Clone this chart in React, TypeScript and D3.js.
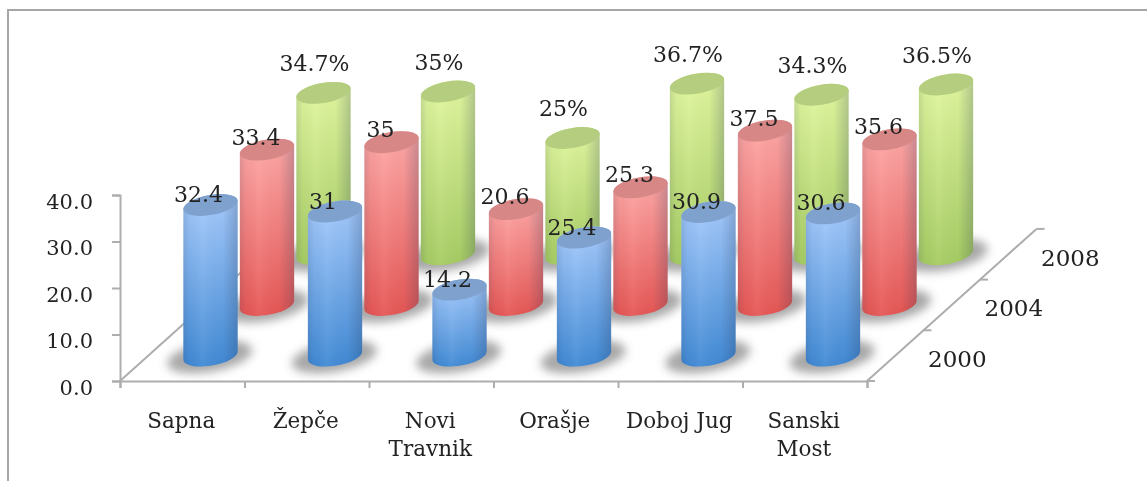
import { useEffect, useRef } from 'react';
import * as d3 from 'd3';

const categories = ['Sapna', 'Žepče', 'Novi\nTravnik', 'Orašje', 'Doboj Jug', 'Sanski\nMost'];
const years = ['2000', '2004', '2008'];
const values2000 = [32.4, 31, 14.2, 25.4, 30.9, 30.6];
const values2004 = [33.4, 35, 20.6, 25.3, 37.5, 35.6];
const values2008 = [34.7, 35, 25, 36.7, 34.3, 36.5];
const yTicks = [0, 10, 20, 30, 40];

const W = 1147;
const H = 481;
const m = { l: 120, r: 867, b: 381, t: 195 };
const depthX = 56.5;
const depthY = 50.7;
const rx = 27.5;
const ry = 10;
const tilt = -10;

const rows = [
  { key: 'blue', values: values2000, suffix: '', top: '#a8ccfd', bottom: '#4089d4', cap: '#7fa1cd', lx: -12, ly: -3 },
  { key: 'red', values: values2004, suffix: '', top: '#ffaaa8', bottom: '#e65654', cap: '#d78886', lx: -11, ly: -5 },
  { key: 'green', values: values2008, suffix: '%', top: '#e3f8a0', bottom: '#a6cc62', cap: '#b4cd7e', lx: -9, ly: -22 },
];

export default function App() {
  const ref = useRef<SVGSVGElement | null>(null);

  useEffect(() => {
    const el = ref.current;
    if (!el) return;
    el.innerHTML = '';
    const svg = d3.select(el);
    const defs = svg.append('defs');

    defs.append('filter').attr('id', 'soft').attr('x', '-1%').attr('y', '-1%').attr('width', '102%').attr('height', '102%')
      .append('feGaussianBlur').attr('stdDeviation', 0.5);
    defs.append('filter').attr('id', 'shadow').attr('x', '-40%').attr('y', '-80%').attr('width', '180%').attr('height', '260%')
      .append('feGaussianBlur').attr('stdDeviation', 5);

    rows.forEach(r => {
      const g = defs.append('linearGradient').attr('id', `body-${r.key}`).attr('x1', 0).attr('y1', 0).attr('x2', 0).attr('y2', 1);
      g.append('stop').attr('offset', 0).attr('stop-color', r.top);
      g.append('stop').attr('offset', 1).attr('stop-color', r.bottom);
    });
    const edge = defs.append('linearGradient').attr('id', 'edge').attr('x1', 0).attr('y1', 0).attr('x2', 1).attr('y2', 0);
    edge.append('stop').attr('offset', 0).attr('stop-color', '#203050').attr('stop-opacity', 0.14);
    edge.append('stop').attr('offset', 0.12).attr('stop-color', '#203050').attr('stop-opacity', 0.03);
    edge.append('stop').attr('offset', 0.35).attr('stop-color', '#ffffff').attr('stop-opacity', 0.06);
    edge.append('stop').attr('offset', 0.72).attr('stop-color', '#203050').attr('stop-opacity', 0.02);
    edge.append('stop').attr('offset', 1).attr('stop-color', '#203050').attr('stop-opacity', 0.24);

    const root = svg.append('g').attr('filter', 'url(#soft)');

    // chart frame, only top and left are in view
    root.append('path').attr('d', `M8,${H} V10 H${W}`).attr('fill', 'none').attr('stroke', '#a6a6a6').attr('stroke-width', 2);

    const y = d3.scaleLinear().domain([0, 40]).range([m.b, m.t]);
    const xEdge = d3.scaleLinear().domain([0, categories.length]).range([m.l, m.r]);
    const x = d3.scaleBand<string>().domain(categories).range([m.l, m.r]);
    const depth = d3.scaleBand<string>().domain(years).range([0, years.length]);
    const dx = (d: number) => d * depthX;
    const dy = (d: number) => -d * depthY;

    const axisColor = '#adadad';
    const fontFamily = '"DejaVu Serif", serif';

    // axes
    const yAxis = root.append('g').attr('transform', `translate(${m.l},0)`)
      .call(d3.axisLeft(y).tickValues(yTicks).tickFormat(d3.format('.1f') as any).tickSize(8).tickPadding(19));
    const xAxis = root.append('g').attr('transform', `translate(0,${m.b})`)
      .call(d3.axisBottom(xEdge).ticks(categories.length).tickFormat(() => '').tickSize(7));
    [yAxis, xAxis].forEach(a => {
      a.selectAll('path,line').attr('stroke', axisColor).attr('stroke-width', 2);
    });
    yAxis.selectAll('text')
      .attr('font-family', fontFamily).attr('font-size', 21).attr('fill', '#222').attr('dy', '0.62em')
      .attr('y', 0);

    // floor edges and depth ticks
    [m.l, m.r].forEach(x0 => {
      root.append('line')
        .attr('x1', x0).attr('y1', m.b)
        .attr('x2', x0 + dx(years.length)).attr('y2', m.b + dy(years.length))
        .attr('stroke', axisColor).attr('stroke-width', 2);
    });
    d3.range(years.length + 1).forEach(i => {
      root.append('line')
        .attr('x1', m.r + dx(i)).attr('y1', m.b + dy(i))
        .attr('x2', m.r + dx(i) + 8).attr('y2', m.b + dy(i))
        .attr('stroke', axisColor).attr('stroke-width', 2);
    });

    const theta = (tilt * Math.PI) / 180;
    const ex = Math.sqrt(rx * rx * Math.cos(theta) ** 2 + ry * ry * Math.sin(theta) ** 2);
    const ey = ((rx * rx - ry * ry) * Math.sin(theta) * Math.cos(theta)) / ex;

    const bodyPath = (cx: number, base: number, top: number) =>
      `M${cx - ex},${top - ey} L${cx - ex},${base - ey} ` +
      `A${rx},${ry} ${tilt} 0 0 ${cx + ex},${base + ey} ` +
      `L${cx + ex},${top + ey} A${rx},${ry} ${tilt} 0 0 ${cx - ex},${top - ey} Z`;

    const center = (s: number, i: number) => {
      const d = (depth(years[s]) as number) + depth.bandwidth() / 2;
      return {
        cx: (x(categories[i]) as number) + x.bandwidth() / 2 + dx(d),
        base: m.b + dy(d),
      };
    };

    // back row first so the front row overlaps it
    d3.range(rows.length).reverse().forEach(s => {
      const r = rows[s];
      const row = root.append('g');
      r.values.forEach((v, i) => {
        const { cx, base } = center(s, i);
        const top = base - (y(0) - y(v));
        row.append('ellipse')
          .attr('cx', cx - 1).attr('cy', base + 1).attr('rx', 43).attr('ry', 15)
          .attr('transform', `rotate(${tilt} ${cx} ${base})`)
          .attr('fill', '#999').attr('opacity', 0.85).attr('filter', 'url(#shadow)');
        row.append('path').attr('d', bodyPath(cx, base, top)).attr('fill', `url(#body-${r.key})`);
        row.append('path').attr('d', bodyPath(cx, base, top)).attr('fill', 'url(#edge)');
        row.append('ellipse')
          .attr('cx', cx).attr('cy', top).attr('rx', rx).attr('ry', ry)
          .attr('transform', `rotate(${tilt} ${cx} ${top})`)
          .attr('fill', r.cap);
      });
    });

    // text on top of everything
    const text = root.append('g').attr('font-family', fontFamily).attr('fill', '#222');

    rows.forEach((r, s) => {
      r.values.forEach((v, i) => {
        const { cx, base } = center(s, i);
        text.append('text')
          .attr('x', cx + r.lx).attr('y', base - (y(0) - y(v)) + r.ly)
          .attr('text-anchor', 'middle').attr('font-size', 22)
          .text(`${v}${r.suffix}`);
      });
    });

    categories.forEach(c => {
      c.split('\n').forEach((line, k) => {
        text.append('text')
          .attr('x', (x(c) as number) + x.bandwidth() / 2 - 1).attr('y', 428 + k * 28)
          .attr('text-anchor', 'middle').attr('font-size', 21.5)
          .text(line);
      });
    });

    years.forEach((yr, s) => {
      text.append('text')
        .attr('x', m.r + dx(s) + 61).attr('y', m.b + dy(s) - 14)
        .attr('font-size', 23)
        .text(yr);
    });
  }, []);

  return (
    <svg
      ref={ref}
      width={W}
      height={H}
      viewBox={`0 0 ${W} ${H}`}
      style={{ position: 'absolute', left: 0, top: 0, background: '#fff' }}
    />
  );
}
